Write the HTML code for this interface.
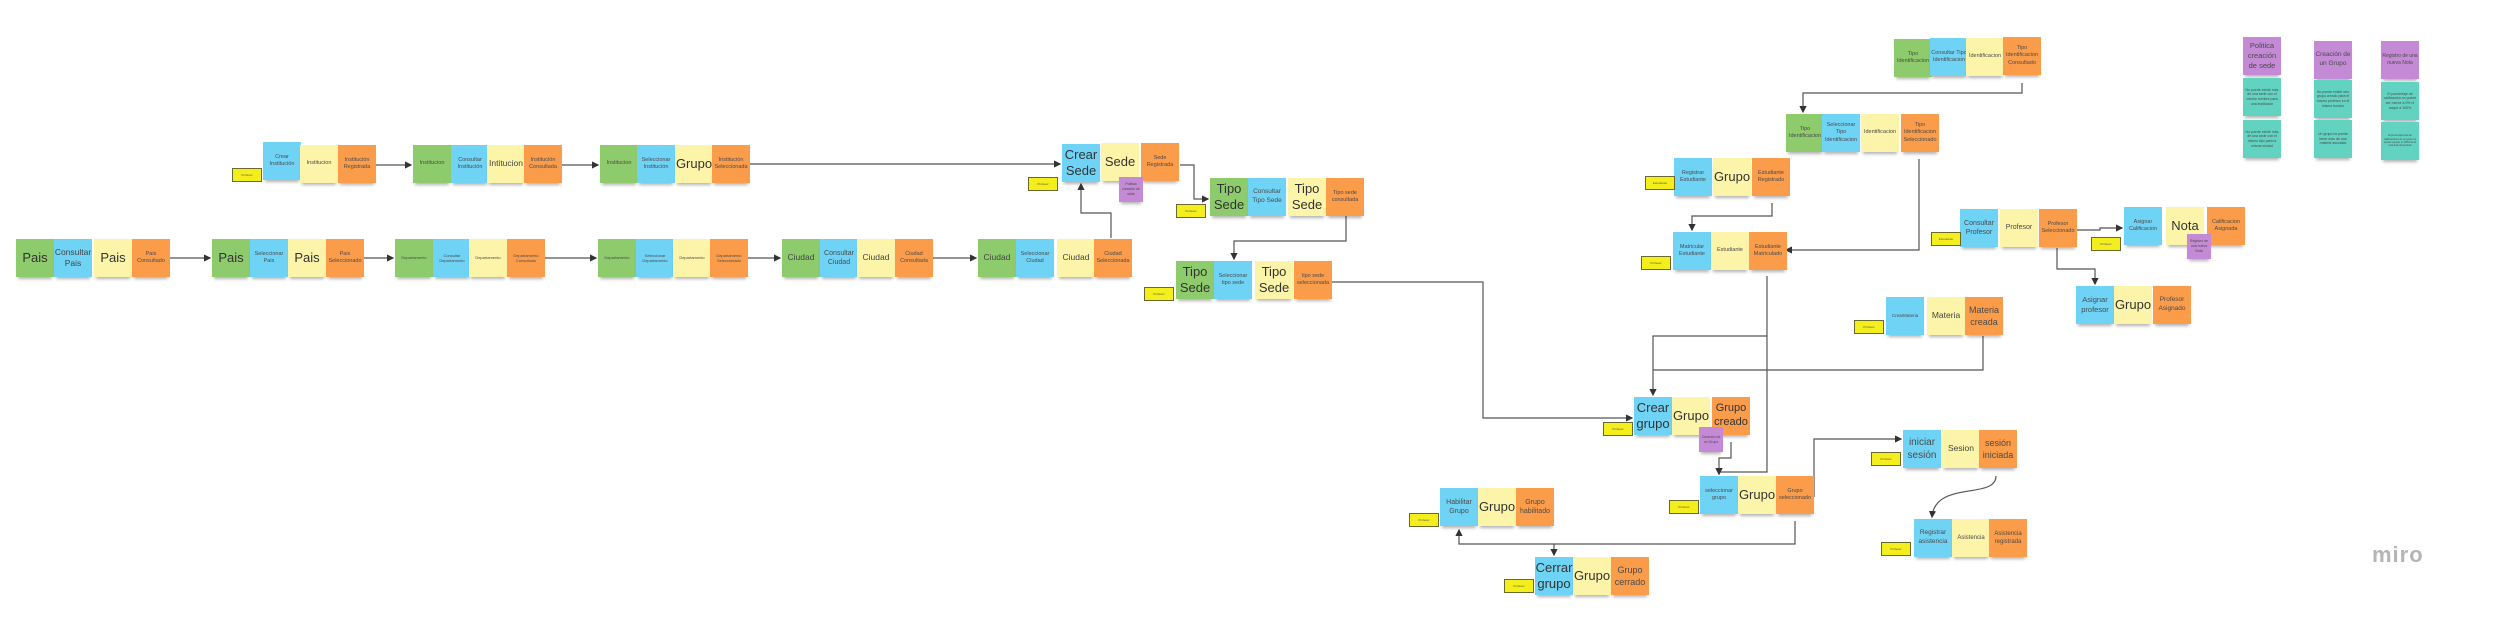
<!DOCTYPE html>
<html><head><meta charset="utf-8"><style>
body{margin:0;width:2503px;height:624px;background:#fff;position:relative;overflow:hidden;font-family:"Liberation Sans",sans-serif}
.s{position:absolute;width:38px;height:38px;display:flex;align-items:center;justify-content:center;text-align:center;font-size:5.5px;line-height:1.35;color:#4a4a4a;box-shadow:0 4px 3px -2px rgba(0,0,0,.3);box-sizing:border-box;padding:1px;overflow:hidden}
.g{background:#8ecb6c}.b{background:#6fd3f6}.y{background:#fcf4a8}.o{background:#fb9c4b}.p{background:#c48ad6}.t{background:#62d3c1}
.L{font-size:13px;line-height:1.25;color:#333}.M{font-size:8.5px;color:#444}
.sm{width:24px;height:25px;font-size:3.5px}
.tag{position:absolute;width:30px;height:14px;background:#f4ef1c;border:1.5px solid #6a6a30;box-sizing:border-box;font-size:3px;color:#555;display:flex;align-items:center;justify-content:center}
svg{position:absolute;left:0;top:0}
.miro{position:absolute;left:2372px;top:542px;font-size:22px;color:#b5b5b5;font-weight:bold;letter-spacing:1px}
</style></head><body>
<svg width="2503" height="624" fill="none" stroke="#555" stroke-width="1.2">
<defs><marker id="a" markerWidth="6" markerHeight="6" refX="5" refY="3" orient="auto"><path d="M0,0L6,3L0,6z" fill="#333" stroke="none"/></marker></defs>
<g marker-end="url(#a)">
<path d="M375 165H411"/><path d="M561 165H598"/><path d="M748 164H1060"/>
<path d="M170 258H210"/><path d="M363 258H393"/><path d="M543 258H596"/><path d="M747 258H780"/><path d="M933 258H976"/>
<path d="M1111 238V213H1081V184"/>
<path d="M1180 165H1194V199H1208"/>
<path d="M1346 216V241H1234V259"/>
<path d="M1332 282H1483V418H1632"/>
<path d="M2022 83V93H1803V112"/>
<path d="M1919 159V250H1786"/>
<path d="M1772 203V216H1692V230"/>
<path d="M1767 276V472H1719V474"/>
<path d="M1767 336H1653V395"/>
<path d="M1731 442V458H1719V474"/>
<path d="M1814 497V439H1901"/>
<path d="M1996 476C1996 500 1935 480 1932 517"/>
<path d="M1795 521V544H1459V530"/>
<path d="M1554 544V555"/>
<path d="M2076 230H2100V228H2122"/>
<path d="M2057 248V269H2095V284"/>
</g>
<path d="M1983 336V370H1653"/>
</svg>

<!-- Institution row -->
<div class="s b" style="left:263px;top:142px">Crear Institución</div>
<div class="s y" style="left:300px;top:145px">Institucion</div>
<div class="s o" style="left:338px;top:145px">Institución Registrada</div>
<div class="tag" style="left:232px;top:168px">Profesor</div>
<div class="s g" style="left:413px;top:145px">Institucion</div>
<div class="s b" style="left:451px;top:145px">Consultar Institución</div>
<div class="s y M" style="left:487px;top:145px">Intitucion</div>
<div class="s o" style="left:524px;top:145px">Institución Consultada</div>
<div class="s g" style="left:600px;top:145px">Institucion</div>
<div class="s b" style="left:637px;top:145px">Seleccionar Institución</div>
<div class="s y L" style="left:675px;top:145px">Grupo</div>
<div class="s o" style="left:712px;top:145px">Institución Seleccionada</div>

<!-- Pais row -->
<div class="s g L" style="left:16px;top:239px">Pais</div>
<div class="s b M" style="left:54px;top:239px">Consultar Pais</div>
<div class="s y L" style="left:94px;top:239px">Pais</div>
<div class="s o" style="left:132px;top:239px">Pais Consultado</div>
<div class="s g L" style="left:212px;top:239px">Pais</div>
<div class="s b" style="left:250px;top:239px">Seleccionar Pais</div>
<div class="s y L" style="left:288px;top:239px">Pais</div>
<div class="s o" style="left:326px;top:239px">Pais Seleccionado</div>
<div class="s g" style="left:395px;top:239px;font-size:4px">Departamento</div>
<div class="s b" style="left:433px;top:239px;font-size:4px">Consultar Departamento</div>
<div class="s y" style="left:469px;top:239px;font-size:4px">Departamento</div>
<div class="s o" style="left:507px;top:239px;font-size:4px">Departamento Consultado</div>
<div class="s g" style="left:598px;top:239px;font-size:4px">Departamento</div>
<div class="s b" style="left:636px;top:239px;font-size:4px">Seleccionar Departamento</div>
<div class="s y" style="left:673px;top:239px;font-size:4px">Departamento</div>
<div class="s o" style="left:710px;top:239px;font-size:4px">Departamento Seleccionado</div>
<div class="s g M" style="left:782px;top:239px">Ciudad</div>
<div class="s b" style="left:820px;top:239px;font-size:7px">Consultar Ciudad</div>
<div class="s y M" style="left:857px;top:239px">Ciudad</div>
<div class="s o" style="left:895px;top:239px">Ciudad Consultada</div>
<div class="s g M" style="left:978px;top:239px">Ciudad</div>
<div class="s b" style="left:1016px;top:239px">Seleccionar Ciudad</div>
<div class="s y M" style="left:1057px;top:239px">Ciudad</div>
<div class="s o" style="left:1094px;top:239px">Ciudad Seleccionada</div>

<!-- Sede -->
<div class="s b L" style="left:1062px;top:144px">Crear Sede</div>
<div class="s y L" style="left:1101px;top:143px">Sede</div>
<div class="s o" style="left:1141px;top:143px">Sede Registrada</div>
<div class="s p sm" style="left:1119px;top:177px">Politica creación de sede</div>
<div class="tag" style="left:1028px;top:177px">Profesor</div>
<div class="s g L" style="left:1210px;top:178px">Tipo Sede</div>
<div class="s b" style="left:1248px;top:178px;font-size:6.5px">Consultar Tipo Sede</div>
<div class="s y L" style="left:1288px;top:178px">Tipo Sede</div>
<div class="s o" style="left:1326px;top:178px">Tipo sede consultada</div>
<div class="tag" style="left:1176px;top:204px">Profesor</div>
<div class="s g L" style="left:1176px;top:261px">Tipo Sede</div>
<div class="s b" style="left:1214px;top:261px">Seleccionar tipo sede</div>
<div class="s y L" style="left:1255px;top:261px">Tipo Sede</div>
<div class="s o" style="left:1294px;top:261px">tipo sede seleccionada</div>
<div class="tag" style="left:1144px;top:287px">Profesor</div>

<!-- Grupo -->
<div class="s b L" style="left:1634px;top:397px">Crear grupo</div>
<div class="s y L" style="left:1672px;top:397px">Grupo</div>
<div class="s o L" style="left:1712px;top:397px;font-size:11px">Grupo creado</div>
<div class="s p sm" style="left:1699px;top:427px">Creación de un Grupo</div>
<div class="tag" style="left:1603px;top:422px">Profesor</div>
<div class="s b" style="left:1700px;top:476px">seleccionar grupo</div>
<div class="s y L" style="left:1738px;top:476px">Grupo</div>
<div class="s o" style="left:1776px;top:476px">Grupo seleccionado</div>
<div class="tag" style="left:1669px;top:500px">Profesor</div>
<div class="s b" style="left:1440px;top:488px;font-size:7px">Habilitar Grupo</div>
<div class="s y L" style="left:1478px;top:488px">Grupo</div>
<div class="s o" style="left:1516px;top:488px;font-size:7px">Grupo habilitado</div>
<div class="tag" style="left:1409px;top:513px">Profesor</div>
<div class="s b L" style="left:1535px;top:557px">Cerrar grupo</div>
<div class="s y L" style="left:1573px;top:557px">Grupo</div>
<div class="s o" style="left:1611px;top:557px;font-size:9px">Grupo cerrado</div>
<div class="tag" style="left:1504px;top:579px">Profesor</div>
<div class="s b" style="left:1903px;top:430px;font-size:10px">iniciar sesión</div>
<div class="s y M" style="left:1942px;top:430px">Sesion</div>
<div class="s o" style="left:1979px;top:430px;font-size:9px">sesión iniciada</div>
<div class="tag" style="left:1871px;top:452px">Profesor</div>
<div class="s b" style="left:1914px;top:519px;font-size:6.5px">Registrar asistencia</div>
<div class="s y" style="left:1952px;top:519px;font-size:6px">Asistencia</div>
<div class="s o" style="left:1989px;top:519px;font-size:6px">Asistencia registrada</div>
<div class="tag" style="left:1881px;top:542px">Profesor</div>

<!-- Identificacion / Estudiante -->
<div class="s g" style="left:1894px;top:39px">Tipo Identificacion</div>
<div class="s b" style="left:1930px;top:38px">Consultar Tipo Identificacion</div>
<div class="s y" style="left:1966px;top:38px">Identificacion</div>
<div class="s o" style="left:2003px;top:37px">Tipo Identificacion Consultado</div>
<div class="s g" style="left:1786px;top:114px">Tipo Identificacion</div>
<div class="s b" style="left:1822px;top:114px">Seleccionar Tipo Identificacion</div>
<div class="s y" style="left:1861px;top:114px">Identificacion</div>
<div class="s o" style="left:1901px;top:114px">Tipo Identificacion Seleccionado</div>
<div class="s b" style="left:1674px;top:158px">Registrar Estudiante</div>
<div class="s y L" style="left:1713px;top:158px">Grupo</div>
<div class="s o" style="left:1752px;top:158px">Estudiante Registrado</div>
<div class="tag" style="left:1645px;top:176px">Estudiante</div>
<div class="s b" style="left:1673px;top:232px">Matricular Estudiante</div>
<div class="s y" style="left:1711px;top:232px">Estudiante</div>
<div class="s o" style="left:1749px;top:232px">Estudiante Matriculado</div>
<div class="tag" style="left:1641px;top:256px">Profesor</div>

<!-- Profesor / Materia -->
<div class="s b" style="left:1960px;top:209px;font-size:7px">Consultar Profesor</div>
<div class="s y" style="left:2000px;top:209px;font-size:7px">Profesor</div>
<div class="s o" style="left:2039px;top:209px">Profesor Seleccionado</div>
<div class="tag" style="left:1931px;top:232px">Estudiante</div>
<div class="s b" style="left:2124px;top:207px">Asignar Calificacion</div>
<div class="s y L" style="left:2166px;top:207px">Nota</div>
<div class="s o" style="left:2207px;top:207px">Calificacion Asignada</div>
<div class="s p sm" style="left:2187px;top:234px">Registro de una nueva Nota</div>
<div class="tag" style="left:2091px;top:237px">Profesor</div>
<div class="s b" style="left:2076px;top:286px;font-size:7.5px">Asignar profesor</div>
<div class="s y L" style="left:2114px;top:286px">Grupo</div>
<div class="s o" style="left:2153px;top:286px;font-size:6.5px">Profesor Asignado</div>
<div class="s b" style="left:1886px;top:297px;font-size:4.5px">CrearMateria</div>
<div class="s y M" style="left:1927px;top:297px">Materia</div>
<div class="s o" style="left:1965px;top:297px;font-size:9px">Materia creada</div>
<div class="tag" style="left:1854px;top:320px">Profesor</div>

<!-- Policies -->
<div class="s p" style="left:2243px;top:37px;font-size:7.5px">Politica creación de sede</div>
<div class="s t" style="left:2243px;top:78px;font-size:3.5px">No puede existir más de una sede con el mismo nombre para una institución</div>
<div class="s t" style="left:2243px;top:120px;font-size:3.5px">No puede existir más de una sede con el mismo tipo para la misma ciudad</div>
<div class="s p" style="left:2314px;top:41px;font-size:6.5px">Creación de un Grupo</div>
<div class="s t" style="left:2314px;top:80px;font-size:3.5px">No puede existir otro grupo creado para el mismo profesor en el mismo horario</div>
<div class="s t" style="left:2314px;top:120px;font-size:3.5px">Un grupo no puede tener más de una materia asociada</div>
<div class="s p" style="left:2381px;top:41px;font-size:5px">Registro de una nueva Nota</div>
<div class="s t" style="left:2381px;top:82px;font-size:3.5px">El porcentaje de calificación no puede ser menor a 0% ni mayor a 100%</div>
<div class="s t" style="left:2381px;top:122px;font-size:2.5px">El porcentaje total de calificaciones de un grupo no puede superar el 100% de la nota final del periodo</div>

<div class="miro">miro</div>
</body></html>
